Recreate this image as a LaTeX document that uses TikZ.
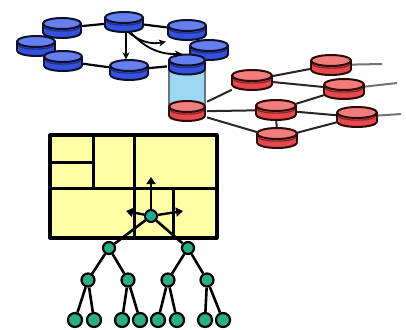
\documentclass[tikz,border=0pt]{standalone}
\usetikzlibrary{arrows.meta}
\definecolor{bluetop}{RGB}{100,128,240}
\definecolor{bluebody}{RGB}{52,82,222}
\definecolor{blueline}{RGB}{15,16,45}
\definecolor{redtop}{RGB}{242,125,125}
\definecolor{redbody}{RGB}{230,72,78}
\definecolor{redline}{RGB}{45,10,10}
\definecolor{lightblue}{RGB}{155,215,240}
\definecolor{boxyellow}{RGB}{255,255,165}
\definecolor{treegreen}{RGB}{40,175,130}
\definecolor{centerteal}{RGB}{28,170,150}
\newcommand{\cylpic}[6]{% x, ytop, halfwidth, body, top, outline
  \filldraw[fill=#4, draw=#6, line width=2pt] (#1,{#2+9}) ellipse [x radius=#3pt, y radius=5.5pt];
  \fill[#4] ({#1-#3},#2) rectangle ({#1+#3},{#2+9});
  \draw[#6, line width=2pt] ({#1-#3},#2) -- ({#1-#3},{#2+9}) ({#1+#3},#2) -- ({#1+#3},{#2+9});
  \draw[#6!55!#4, line width=1.2pt] ({#1-#3+1},{#2+3.5}) .. controls ({#1-#3+3},{#2+9}) and ({#1+#3-3},{#2+9}) .. ({#1+#3-1},{#2+3.5});
  \filldraw[fill=#5, draw=#6, line width=2pt] (#1,#2) ellipse [x radius=#3pt, y radius=5.5pt];
}
\begin{document}
\begin{tikzpicture}[x=1pt,y=-1pt,line join=round,
  cylanchor/.style={inner sep=0pt, minimum width=40pt, minimum height=21pt},
  edge/.style={draw=black, line width=2.2pt},
  redge/.style={draw=black!85, line width=2pt},
  gedge/.style={draw=black!55, line width=2pt},
  harrow/.style={draw=black, line width=1.8pt, -{Stealth[length=7pt,width=7pt]}},
  bigarrow/.style={draw=black, line width=2.4pt, -{Triangle[length=7pt,width=9pt]}},
  wall/.style={draw=black, line width=3pt},
  tnode/.style={circle, draw=black, fill=treegreen, line width=2.2pt, inner sep=0pt},
  lone/.style={tnode, minimum size=12pt},
  ltwo/.style={tnode, minimum size=13pt},
  lthree/.style={tnode, minimum size=14pt},
  tedge/.style={draw=black, line width=2.6pt}]
\useasboundingbox (0,0) rectangle (406,329);
\fill[white] (0,0) rectangle (406,329);

% anchor nodes of the cylinders
\node[cylanchor] (B1) at (124,22) {};
\node[cylanchor] (B2) at (62,28) {};
\node[cylanchor] (B3) at (36,46) {};
\node[cylanchor] (B4) at (63,61) {};
\node[cylanchor] (B5) at (129,70) {};
\node[cylanchor] (B6) at (187,30) {};
\node[cylanchor] (B7) at (209,50) {};
\node[cylanchor] (TB) at (187,64.5) {};
\node[cylanchor] (R0) at (187,111.5) {};
\node[cylanchor] (R1) at (252,80) {};
\node[cylanchor] (R2) at (331,65) {};
\node[cylanchor] (R3) at (344,89) {};
\node[cylanchor] (R4) at (276,110) {};
\node[cylanchor] (R5) at (357,117) {};
\node[cylanchor] (R6) at (277,138) {};
\coordinate (e2) at (382,64);
\coordinate (e3) at (397,83);
\coordinate (e5) at (401,114);

% ring edges
\draw[edge] (B2) -- (B1);
\draw[edge] (B1) -- (B6);
\draw[edge] (B6) -- (B7);
\draw[edge] (B7) -- (TB);
\draw[edge] (TB) -- (B5);
\draw[edge] (B5) -- (B4);
\draw[edge] (B4) -- (B3);
\draw[edge] (B3) -- (B2);

% red network edges
\draw[redge] (R0) -- (R1);
\draw[redge] (R0) -- (R4);
\draw[redge] (R0) -- (R6);
\draw[redge] (R4) -- (R6);
\draw[redge] (R1) -- (R2);
\draw[redge] (R1) -- (R3);
\draw[redge] (R4) -- (R3);
\draw[redge] (R4) -- (R5);
\draw[redge] (R6) -- (R5);
\draw[gedge] (R2) -- (e2);
\draw[gedge] (R3) -- (e3);
\draw[gedge] (R5) -- (e5);

% blue cylinders
\cylpic{124}{17.5}{19}{bluebody}{bluetop}{blueline}
\cylpic{62}{23.5}{19}{bluebody}{bluetop}{blueline}
\cylpic{187}{25.5}{19}{bluebody}{bluetop}{blueline}
\cylpic{36}{41.5}{19}{bluebody}{bluetop}{blueline}
\cylpic{209}{45.5}{19}{bluebody}{bluetop}{blueline}
\cylpic{63}{56.5}{19}{bluebody}{bluetop}{blueline}
% tall cylinder
\fill[lightblue] (169,65) rectangle (205,110);
\draw[blueline!60, line width=1.4pt] (169,65) -- (169,110) (205,65) -- (205,110);
\cylpic{187}{60}{18}{bluebody}{bluetop}{blueline}
\cylpic{129}{65.5}{19}{bluebody}{bluetop}{blueline}

% red cylinders
\cylpic{331}{60.5}{20}{redbody}{redtop}{redline}
\cylpic{252}{75.5}{20}{redbody}{redtop}{redline}
\cylpic{344}{84.5}{20}{redbody}{redtop}{redline}
\cylpic{276}{105.5}{20}{redbody}{redtop}{redline}
\cylpic{187}{106.5}{18}{redbody}{redtop}{redline}
\cylpic{357}{112.5}{20}{redbody}{redtop}{redline}
\cylpic{277}{133.5}{20}{redbody}{redtop}{redline}

% arrows from the top cylinder
\draw[harrow] ([xshift=2pt]B1.south) -- ([xshift=-3pt]B5.north);
\draw[harrow] ([xshift=5pt]B1.south) to[bend right=25] ([xshift=-1pt,yshift=-1pt]B6.south west);
\draw[harrow] ([xshift=7pt]B1.south) to[bend right=25] ([xshift=-5pt]TB.north);

% yellow box
\draw[wall, line width=3.2pt, fill=boxyellow] (50,135) rectangle (217,238);
\draw[wall] (93,135) -- (93,188);
\draw[wall] (50,162) -- (93,162);
\draw[wall] (134,135) -- (134,238);
\draw[wall] (50,188) -- (217,188);
\draw[wall] (173,188) -- (173,238);

% center node and its arrows
\node[circle, draw=black, fill=centerteal, line width=2pt, inner sep=0pt, minimum size=12pt] (T0) at (151,216) {};
\coordinate (aU) at (151,177);
\coordinate (aL) at (126,211);
\coordinate (aR) at (183,211);
\draw[bigarrow] (T0) -- (aU);
\draw[bigarrow] (T0) -- (aL);
\draw[bigarrow] (T0) -- (aR);

% tree
\node[lone] (L1a) at (109,248) {};
\node[lone] (L1b) at (188,248) {};
\node[ltwo] (L2a) at (88,280) {};
\node[ltwo] (L2b) at (128,280) {};
\node[ltwo] (L2c) at (168,280) {};
\node[ltwo] (L2d) at (207,280) {};
\node[lthree] (L3a) at (75,320) {};
\node[lthree] (L3b) at (94,320) {};
\node[lthree] (L3c) at (122,320) {};
\node[lthree] (L3d) at (140,320) {};
\node[lthree] (L3e) at (158,320) {};
\node[lthree] (L3f) at (177,320) {};
\node[lthree] (L3g) at (205,320) {};
\node[lthree] (L3h) at (223,320) {};
\draw[tedge] (T0) -- (L1a);
\draw[tedge] (T0) -- (L1b);
\draw[tedge] (L1a) -- (L2a);
\draw[tedge] (L1a) -- (L2b);
\draw[tedge] (L1b) -- (L2c);
\draw[tedge] (L1b) -- (L2d);
\draw[tedge] (L2a) -- (L3a);
\draw[tedge] (L2a) -- (L3b);
\draw[tedge] (L2b) -- (L3c);
\draw[tedge] (L2b) -- (L3d);
\draw[tedge] (L2c) -- (L3e);
\draw[tedge] (L2c) -- (L3f);
\draw[tedge] (L2d) -- (L3g);
\draw[tedge] (L2d) -- (L3h);
\end{tikzpicture}
\end{document}
